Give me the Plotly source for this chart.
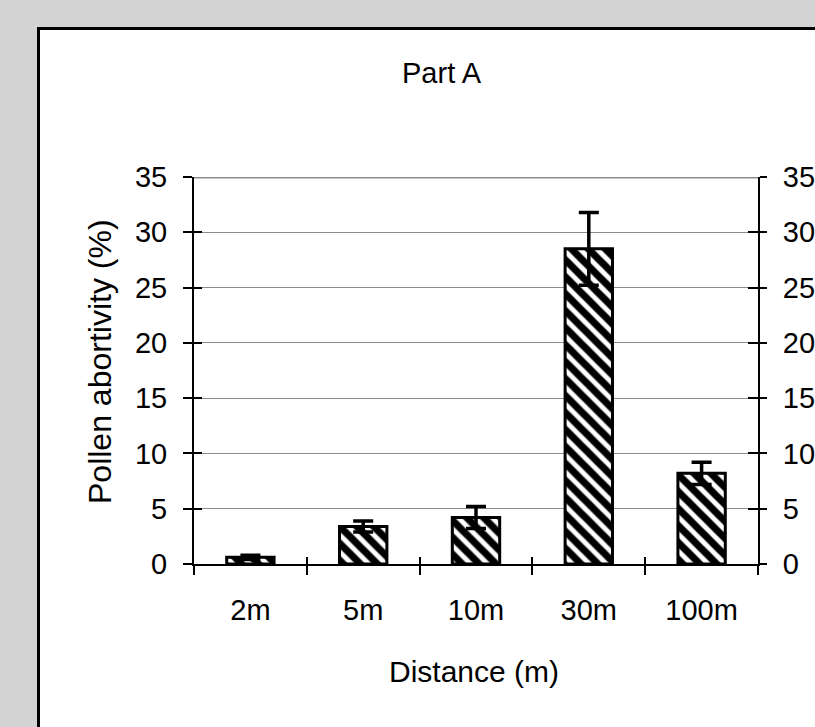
import plotly.graph_objects as go

categories = ["2m", "5m", "10m", "30m", "100m"]
abortivity = [0.6, 3.4, 4.2, 28.5, 8.2]
errors = [0.2, 0.5, 1.0, 3.3, 1.0]
y_ticks = [0, 5, 10, 15, 20, 25, 30, 35]

W, H = 815, 727
L, R, T, B = 194, 57, 177, 163
pw, ph = W - L - R, H - T - B

def px_x(p):
    return (p - L) / pw

def px_y(p):
    return (H - B - p) / ph

FAM = "Liberation Sans, Arial, sans-serif"
font = dict(family=FAM, size=29, color="black")
ytitle_font = dict(family=FAM, size=32, color="black")
xtitle_font = dict(family=FAM, size=30, color="black")

fig = go.Figure()
fig.add_trace(go.Bar(
    x=categories, y=abortivity,
    marker=dict(color="white", line=dict(color="black", width=3),
                pattern=dict(shape="\\", fgcolor="black", fgopacity=1, bgcolor="white",
                             size=12, solidity=0.6)),
    error_y=dict(type="data", array=errors, color="black", thickness=3.5, width=10),
    width=0.42,
))

common = dict(automargin=False, zeroline=False)

fig.update_layout(
    width=W, height=H,
    margin=dict(l=L, r=R, t=T, b=B, pad=0, autoexpand=False),
    paper_bgcolor="#d3d3d3", plot_bgcolor="white",
    showlegend=False, font=font,
    xaxis=dict(type="category", range=[-0.5, 4.5], tickson="boundaries", ticks="outside",
               ticklen=9, tickwidth=2, tickcolor="black", showline=True, linecolor="black",
               linewidth=2, showgrid=False, tickfont=font, ticklabelstandoff=19, **common),
    xaxis2=dict(overlaying="x", range=[-0.5, 4.5], tickvals=[-0.5, 0.5, 1.5, 2.5, 3.5, 4.5],
                ticks="inside", ticklen=7, tickwidth=2, tickcolor="black", showticklabels=False,
                showgrid=False, showline=False, anchor="y", side="bottom", **common),
    yaxis=dict(range=[0, 35], tickvals=y_ticks, ticks="outside", ticklen=9, tickwidth=2,
               tickcolor="black", showline=True, linecolor="black", linewidth=2,
               showgrid=True, gridcolor="#8c8c8c", gridwidth=1, tickfont=font,
               ticklabelstandoff=10, **common),
    yaxis2=dict(overlaying="y", side="right", range=[0, 35], tickvals=y_ticks, ticks="outside",
                ticklen=7, tickwidth=2, tickcolor="black", showline=True, linecolor="black",
                linewidth=2, showgrid=False, tickfont=font, anchor="x",
                ticklabelstandoff=10, **common),
    yaxis3=dict(overlaying="y", side="left", range=[0, 35], tickvals=y_ticks, ticks="inside",
                ticklen=8, tickwidth=2, tickcolor="black", showticklabels=False,
                showgrid=False, showline=False, anchor="x", **common),
    yaxis4=dict(overlaying="y", side="right", range=[0, 35], tickvals=y_ticks, ticks="inside",
                ticklen=10, tickwidth=2, tickcolor="black", showticklabels=False,
                showgrid=False, showline=False, anchor="x", **common),
)

# invisible helper traces so overlay axes render
for xa, ya in [("x2", "y"), ("x", "y2"), ("x", "y3"), ("x", "y4")]:
    fig.add_trace(go.Scatter(x=[None], y=[None], xaxis=xa, yaxis=ya, mode="markers",
                             hoverinfo="skip", showlegend=False))

# white panel with black border
fig.add_shape(type="rect", xref="paper", yref="paper",
              x0=px_x(38.5), x1=px_x(900), y0=px_y(800), y1=px_y(28.5),
              line=dict(color="black", width=3), fillcolor="white", layer="below")
# top frame line at 35
fig.add_shape(type="line", xref="paper", yref="y", x0=0, x1=1, y0=35, y1=35,
              line=dict(color="#8c8c8c", width=3), layer="between")

fig.add_annotation(text="Part A", xref="paper", yref="paper", x=px_x(442), y=px_y(73),
                   showarrow=False, font=font, xanchor="center", yanchor="middle")
fig.add_annotation(text="Pollen abortivity (%)", xref="paper", yref="paper",
                   x=px_x(100), y=px_y(362), textangle=-90, showarrow=False,
                   font=ytitle_font, xanchor="center", yanchor="middle")
fig.add_annotation(text="Distance (m)", xref="paper", yref="paper",
                   x=px_x(474), y=px_y(671), showarrow=False,
                   font=xtitle_font, xanchor="center", yanchor="middle")

fig.write_html("out.html", config={"displayModeBar": False},
               post_script="document.body.style.margin='0';")
